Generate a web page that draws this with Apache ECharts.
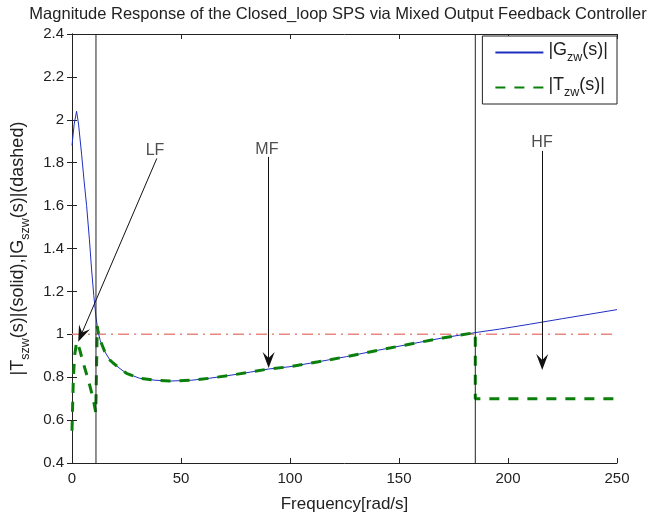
<!DOCTYPE html>
<html>
<head>
<meta charset="utf-8">
<script src="https://cdn.jsdelivr.net/npm/echarts@6/dist/echarts.min.js"></script>
<style>
  html, body { margin: 0; padding: 0; background: #fff; }
  #chart { width: 649px; height: 518px; }
</style>
</head>
<body>
<div id="chart"></div>
<script>
// |G_zw(s)| (rad/s, magnitude)
const gzwFreq = [0, 1, 2.1, 3, 4.4, 5.5, 6.7, 8, 9, 10, 11, 12, 13, 15, 17.4, 19, 22, 25, 31, 38, 45,
  55, 63, 72, 82, 90, 100, 113, 126, 140, 157, 170, 185, 196, 210, 225, 240, 250];
const gzwMag = [1.88, 1.98, 2.04, 1.98, 1.84, 1.72, 1.60, 1.44, 1.30, 1.18, 1.08, 1.01, 0.97, 0.92, 0.88,
  0.865, 0.84, 0.818, 0.795, 0.786, 0.782, 0.786, 0.795, 0.808, 0.824, 0.838, 0.849, 0.872, 0.896,
  0.925, 0.958, 0.983, 1.008, 1.024, 1.047, 1.073, 1.098, 1.115];

// |T_zw(s)|: own low band, follows G in the mid band, flat in the high band
const tzwLowFreq = [0, 0.6, 1.2, 2.1, 3.5, 5.2, 6.8, 8.3, 9.7, 10.9, 11.6];
const tzwLowMag = [0.55, 0.79, 0.9, 0.965, 0.93, 0.865, 0.81, 0.756, 0.70, 0.635, 1.038];
const midBand = [12, 185];
const tzwHighFreq = [185, 250];
const tzwHighMag = [0.7, 0.7];

const bandEdges = [11, 185];
const unityLevel = 1;

// annotations
const annoNames = ['LF', 'MF', 'HF'];
const annoTextX = [38.1, 89.4, 215.6];
const annoTextY = [1.857, 1.862, 1.895];
const arrowFromX = [38.9, 90.2, 215.7];
const arrowFromY = [1.82, 1.827, 1.855];
const arrowToX = [4.3, 90.2, 215.7];
const arrowToY = [1.0, 0.880, 0.871];

const xTicks = { min: 0, max: 250, interval: 50 };
const yTicks = { min: 0.4, max: 2.4, interval: 0.2 };

const FONT = 'Liberation Sans, Arial, sans-serif';
const INK = '#222';

const gzwData = gzwFreq.map((f, i) => [f, gzwMag[i]]);
const tzwData = tzwLowFreq.map((f, i) => [f, tzwLowMag[i]])
  .concat(gzwData.filter(d => d[0] >= midBand[0] && d[0] <= midBand[1]))
  .concat(tzwHighFreq.map((f, i) => [f, tzwHighMag[i]]));

const rich = {
  m: { fontSize: 18, fontFamily: FONT, color: INK, verticalAlign: 'bottom', padding: [0, 0, 5, 0] },
  s: { fontSize: 12.5, fontFamily: FONT, color: INK, verticalAlign: 'bottom' }
};

const arrowHead = 'path://M6,0L12,16L6,10L0,16Z';

const frameAxis = {
  axisLine: { show: true, lineStyle: { color: INK, width: 1 } },
  axisTick: { show: true, inside: true, length: 5, lineStyle: { color: INK } },
  splitLine: { show: false }
};

const chart = echarts.init(document.getElementById('chart'));
chart.setOption({
  animation: false,
  title: {
    text: 'Magnitude Response of the Closed_loop SPS via Mixed Output Feedback Controller',
    left: 333, top: 1, textAlign: 'center',
    textStyle: { fontSize: 16.5, fontWeight: 'normal', color: INK, fontFamily: FONT }
  },
  grid: { left: 72, right: 32, top: 34, bottom: 55 },
  legend: {
    data: ['Gzw', 'Tzw'], orient: 'vertical', right: 32, top: 36,
    padding: [5, 9, 5, 12], itemGap: 12, itemWidth: 48, itemHeight: 14,
    borderColor: INK, borderWidth: 1, backgroundColor: '#fff',
    itemStyle: { opacity: 0 },
    formatter: n => n === 'Gzw' ? '{m||G}{s|zw}{m|(s)|}' : '{m||T}{s|zw}{m|(s)|}',
    textStyle: { rich }
  },
  xAxis: [
    Object.assign({
      type: 'value', position: 'bottom', ...xTicks,
      name: 'Frequency[rad/s]', nameLocation: 'middle', nameGap: 33,
      nameTextStyle: { fontSize: 17, color: INK, fontFamily: FONT },
      axisLabel: { fontSize: 15, color: INK, fontFamily: FONT, margin: 8 }
    }, frameAxis),
    Object.assign({ type: 'value', position: 'top', ...xTicks, axisLabel: { show: false } }, frameAxis)
  ],
  yAxis: [
    Object.assign({
      type: 'value', position: 'left', ...yTicks,
      name: '{m||T}{s|szw}{m|(s)|(solid),|G}{s|szw}{m|(s)|(dashed)}',
      nameLocation: 'middle', nameGap: 40,
      nameTextStyle: { rich },
      axisLabel: { fontSize: 15, color: INK, fontFamily: FONT, margin: 8 }
    }, frameAxis),
    Object.assign({ type: 'value', position: 'right', ...yTicks, axisLabel: { show: false } }, frameAxis)
  ],
  series: [
    {
      name: 'unity', type: 'line', symbol: 'none', silent: true, z: 2,
      data: [[xTicks.min, unityLevel], [xTicks.max, unityLevel]],
      lineStyle: { color: '#e8877f', width: 1.5, type: [11, 5, 2, 5] }
    },
    {
      name: 'Gzw', type: 'line', symbol: 'none', z: 3, data: gzwData,
      lineStyle: { color: '#1f2fc0', width: 1 }, itemStyle: { color: '#1f2fc0' }
    },
    {
      name: 'Tzw', type: 'line', symbol: 'none', z: 4, data: tzwData,
      lineStyle: { color: '#0a800a', width: 3, type: [10, 9] }, itemStyle: { color: '#0a800a' }
    },
    ...bandEdges.map(b => ({
      name: 'edge' + b, type: 'line', symbol: 'none', silent: true, z: 5,
      data: [[b, yTicks.min], [b, yTicks.max]],
      lineStyle: { color: '#222', width: 1 }
    })),
    {
      name: 'arrows', type: 'line', data: [], silent: true, z: 6,
      markLine: {
        silent: true, animation: false,
        symbol: ['none', arrowHead], symbolSize: 16, symbolKeepAspect: true,
        label: { show: false },
        lineStyle: { color: '#111', width: 1, type: 'solid' },
        itemStyle: { color: '#111' },
        data: annoNames.map((n, i) => [
          { coord: [arrowFromX[i], arrowFromY[i]] },
          { coord: [arrowToX[i], arrowToY[i]] }
        ])
      }
    },
    {
      name: 'labels', type: 'scatter', symbolSize: 1, silent: true, z: 7,
      itemStyle: { color: 'rgba(0,0,0,0)' },
      data: annoNames.map((n, i) => [annoTextX[i], annoTextY[i]]),
      label: {
        show: true, position: 'inside', fontSize: 16, color: INK, fontFamily: FONT,
        formatter: p => annoNames[p.dataIndex]
      }
    }
  ]
});
</script>
</body>
</html>
